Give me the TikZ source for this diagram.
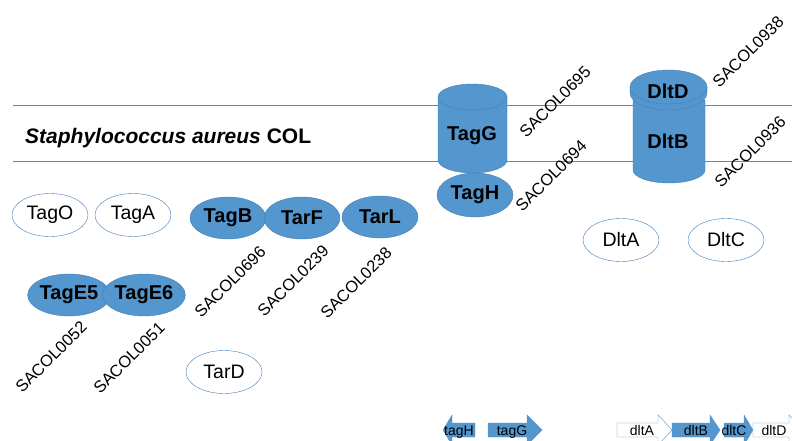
\documentclass[tikz,border=0pt]{standalone}
\usepackage{fontspec}
\setmainfont{Liberation Sans}
\usetikzlibrary{shapes.geometric}
\definecolor{protblue}{RGB}{84,150,206}
\definecolor{protedge}{RGB}{66,126,182}
\begin{document}
\begin{tikzpicture}[x=1pt,y=-1pt,
	prot/.style={ellipse,draw=protedge,fill=protblue,minimum width=76pt,minimum height=42pt,inner sep=0pt,font=\fontsize{20}{22}\selectfont\bfseries},
	free/.style={ellipse,draw=protedge,fill=white,minimum width=76pt,minimum height=43pt,inner sep=0pt,font=\fontsize{19.5}{22}\selectfont},
	locus/.style={rotate=45,inner sep=0pt,font=\fontsize{16.5}{18}\selectfont},
	gene/.style={anchor=base,inner sep=0pt,font=\fontsize{14}{16}\selectfont}]
	\clip (0,0) rectangle (792,441);
	\fill[white] (0,0) rectangle (792,441);
	% membrane
	\draw[gray,line width=1pt] (13,106)--(792,106);
	\draw[gray,line width=1pt] (13,161)--(792,161);
	\node[anchor=base west,inner sep=0pt,font=\fontsize{21}{24}\selectfont\bfseries] (org) at (25,143) {\textit{Staphylococcus aureus} COL};
	% TagG
	\fill[protblue] (438,97)--(438,160) arc(180:0:34.5 and 13)--(507,97)--cycle;
	\draw[protedge] (438,97)--(438,160) arc(180:0:34.5 and 13)--(507,97);
	\draw[protedge,fill=protblue] (472.5,97) ellipse (34.5 and 13);
	\node[anchor=base,font=\fontsize{20}{22}\selectfont\bfseries] (TagG) at (472,140) {TagG};
	\node[prot,minimum height=44pt] (TagH) at (475,195) {TagH};
	% DltB and DltD
	\fill[protblue] (633,100)--(633,170) arc(180:0:36 and 13)--(705,100)--cycle;
	\draw[protedge] (633,100)--(633,170) arc(180:0:36 and 13)--(705,100);
	\fill[protblue] (630,87)--(630,93) arc(180:0:38.5 and 17)--(707,87)--cycle;
	\draw[protedge] (630,87)--(630,93) arc(180:0:38.5 and 17)--(707,87);
	\draw[protedge,fill=protblue] (668.5,87) ellipse (38.5 and 17);
	\node[anchor=base,font=\fontsize{20}{22}\selectfont\bfseries] (DltD) at (668,99) {DltD};
	\node[anchor=base,font=\fontsize{20}{22}\selectfont\bfseries] (DltB) at (668,149) {DltB};
	% proteins
	\node[free] (TagO) at (50,215) {TagO};
	\node[free] (TagA) at (133,215) {TagA};
	\node[prot] (TagB) at (228,218) {TagB};
	\node[prot] (TarF) at (302,218) {TarF};
	\node[prot] (TarL) at (380,217) {TarL};
	\node[prot] (TagE5) at (69,295) {TagE5};
	\node[prot] (TagE6) at (144,295) {TagE6};
	\node[free] (TarD) at (224,372) {TarD};
	\node[free] (DltA) at (621,240) {DltA};
	\node[free] (DltC) at (726,240) {DltC};
	% loci
	\foreach \px/\py/\lab in {555/102/0695,551/176/0694,748/52/0938,750/152/0936,
		230/282/0696,293/281/0239,356/283/0238,51/357/0052,129/358/0051}
		{\node[locus] (l\lab) at (\px,\py) {SACOL\lab};}
	% genes
	\filldraw[draw=protblue,fill=protblue] (475,423)--(452,423)--(452,415)--(443,430)--(452,445)--(452,437)--(475,437)--cycle;
	\foreach \xa/\xb/\xc/\col in {488/527/542/protblue,617/658/672/white,672/710/720/protblue,724/744/753/protblue,753/789/803/white}
		{\filldraw[draw=protblue,fill=\col] (\xa,423)--(\xb,423)--(\xb,415)--(\xc,430)--(\xb,445)--(\xb,437)--(\xa,437)--cycle;}
	\node[gene] (tagH) at (459,435) {tagH};
	\node[gene] (tagG) at (512,435) {tagG};
	\node[gene] (dltA) at (642,435) {dltA};
	\node[gene] (dltB) at (696,435) {dltB};
	\node[gene] (dltC) at (734,435) {dltC};
	\node[gene] (dltD) at (774,435) {dltD};
\end{tikzpicture}
\end{document}
